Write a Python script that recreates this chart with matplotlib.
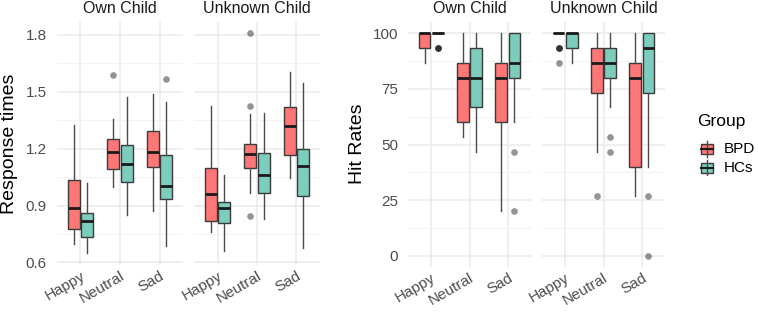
import matplotlib
matplotlib.use("Agg")
import matplotlib.pyplot as plt
from matplotlib.patches import Rectangle
from matplotlib.transforms import ScaledTranslation

plt.rcParams['font.family'] = ['Liberation Sans', 'DejaVu Sans']

facets = ["Own Child", "Unknown Child"]
emotions = ["Happy", "Neutral", "Sad"]
groups = ["BPD", "HCs"]
group_colors = ["#FF7676", "#7CCDBD"]

# stats per (facet, emotion, group): [whislo, q1, med, q3, whishi]
rt_own_bpd = [[0.697, 0.778, 0.889, 1.035, 1.325], [0.996, 1.091, 1.184, 1.249, 1.357], [0.869, 1.103, 1.184, 1.293, 1.487]]
rt_own_hcs = [[0.648, 0.732, 0.820, 0.859, 1.017], [0.850, 1.022, 1.117, 1.218, 1.475], [0.686, 0.936, 1.005, 1.165, 1.448]]
rt_unk_bpd = [[0.762, 0.820, 0.961, 1.096, 1.427], [0.964, 1.096, 1.172, 1.225, 1.383], [1.043, 1.167, 1.320, 1.418, 1.607]]
rt_unk_hcs = [[0.662, 0.806, 0.885, 0.920, 1.061], [0.827, 0.968, 1.061, 1.179, 1.387], [0.674, 0.950, 1.110, 1.198, 1.548]]
rt_own_bpd_out = [[], [1.591], []]
rt_own_hcs_out = [[], [], [1.570]]
rt_unk_bpd_out = [[], [1.809, 1.424, 0.846], []]
rt_unk_hcs_out = [[], [], []]

hr_own_bpd = [[86.7, 93.3, 100, 100, 100], [53.3, 60, 80, 86.7, 100], [20, 60, 80, 86.7, 100]]
hr_own_hcs = [[100, 100, 100, 100, 100], [46.7, 66.7, 80, 93.3, 100], [60, 80, 86.7, 100, 100]]
hr_unk_bpd = [[100, 100, 100, 100, 100], [46.7, 73.3, 86.7, 93.3, 100], [26.7, 40, 80, 86.7, 100]]
hr_unk_hcs = [[86.7, 93.3, 100, 100, 100], [66.7, 80, 86.7, 93.3, 100], [40, 73.3, 93.3, 100, 100]]
hr_own_bpd_out = [[], [], []]
hr_own_hcs_out = [[93.3, 93.3, 93.3], [], [46.7, 20]]
hr_unk_bpd_out = [[93.3, 93.3, 93.3, 86.7], [26.7], []]
hr_unk_hcs_out = [[], [53.3, 46.7], [26.7, 0]]

rt_ticks = [0.6, 0.9, 1.2, 1.5, 1.8]
hr_ticks = [0, 25, 50, 75, 100]

W, H = 758, 312
fig = plt.figure(figsize=(W / 100, H / 100), dpi=100)

def fx(px):
    return px / W

def fy(py):
    return 1 - py / H

def make_ax(x0, x1, y0, y1):
    return fig.add_axes([fx(x0), fy(y1), fx(x1) - fx(x0), fy(y0) - fy(y1)])

GRID = "#EBEBEB"
TICKC = "#4D4D4D"
TICKFS = 11

def draw_panel(ax, bpd, hcs, bpd_out, hcs_out, ylim, yticks, minor, show_y, ylabfmt):
    offs = [-0.17, 0.17]
    width = 0.31
    for gi, (stats, outs) in enumerate([(bpd, bpd_out), (hcs, hcs_out)]):
        bl = []
        pos = []
        for ei, s in enumerate(stats):
            bl.append(dict(whislo=s[0], q1=s[1], med=s[2], q3=s[3], whishi=s[4], fliers=outs[ei]))
            pos.append(ei + 1 + offs[gi])
        ax.bxp(bl, positions=pos, widths=width, patch_artist=True, showcaps=False,
               boxprops=dict(facecolor=group_colors[gi], edgecolor="#3A3A3A", linewidth=1.0),
               medianprops=dict(color="#1A1A1A", linewidth=2.0, solid_capstyle='butt'),
               whiskerprops=dict(color="#4A4A4A", linewidth=1.0),
               flierprops=dict(marker='o', markerfacecolor="#000000", markeredgecolor='none',
                               markersize=4.8, alpha=0.42),
               zorder=3)
    ax.set_xlim(0.4, 3.6)
    ax.set_ylim(*ylim)
    ax.set_yticks(yticks)
    ax.set_yticks(minor, minor=True)
    ax.set_xticks([1, 2, 3])
    ax.set_xticklabels(emotions, rotation=30, ha='right', rotation_mode='anchor',
                       fontsize=TICKFS, color=TICKC)
    off = ScaledTranslation(7 / 100, -3 / 100, fig.dpi_scale_trans)
    for lab in ax.get_xticklabels():
        lab.set_transform(lab.get_transform() + off)
    if show_y:
        ax.set_yticklabels([ylabfmt(t) for t in yticks], fontsize=TICKFS, color=TICKC)
    else:
        ax.set_yticklabels([])
    ax.tick_params(which='both', length=0)
    ax.tick_params(axis='y', pad=7)
    ax.tick_params(axis='x', pad=3)
    ax.grid(True, which='major', color=GRID, linewidth=1.1, zorder=0)
    ax.grid(True, which='minor', axis='y', color="#F3F3F3", linewidth=0.8, zorder=0)
    ax.set_axisbelow(True)
    for sp in ax.spines.values():
        sp.set_visible(False)

rt_minor = [0.75, 1.05, 1.35, 1.65]
hr_minor = [12.5, 37.5, 62.5, 87.5]

ax1 = make_ax(56.7, 183.3, 21.7, 265)
ax2 = make_ax(194, 320, 21.7, 265)
ax3 = make_ax(408, 531, 22.2, 266.8)
ax4 = make_ax(542, 665, 22.2, 266.8)

rt_fmt = lambda t: f"{t:.1f}"
hr_fmt = lambda t: f"{t:d}"
draw_panel(ax1, rt_own_bpd, rt_own_hcs, rt_own_bpd_out, rt_own_hcs_out, (0.586, 1.870), rt_ticks, rt_minor, True, rt_fmt)
draw_panel(ax2, rt_unk_bpd, rt_unk_hcs, rt_unk_bpd_out, rt_unk_hcs_out, (0.586, 1.870), rt_ticks, rt_minor, False, rt_fmt)
draw_panel(ax3, hr_own_bpd, hr_own_hcs, hr_own_bpd_out, hr_own_hcs_out, (-5, 105), hr_ticks, hr_minor, True, hr_fmt)
draw_panel(ax4, hr_unk_bpd, hr_unk_hcs, hr_unk_bpd_out, hr_unk_hcs_out, (-5, 105), hr_ticks, hr_minor, False, hr_fmt)

strip_x = [(56.7 + 183.3) / 2, (194 + 320) / 2, (408 + 531) / 2, (542 + 665) / 2]
for xc, title in zip(strip_x, facets * 2):
    fig.text(fx(xc), fy(12.8), title, ha='center', va='baseline', fontsize=11.5, color="#1A1A1A")

fig.text(fx(1.5), 0.5 + (fy(143.5) - 0.5), "Response times", rotation=90, fontsize=14,
         ha='left', va='center')
fig.text(fx(349), fy(144), "Hit Rates", rotation=90, fontsize=14, ha='left', va='center')

# legend
fig.text(fx(697), fy(122), "Group", fontsize=12.5, ha='left', va='center')
lax = fig.add_axes([fx(698), fy(176), fx(716) - fx(698), fy(140) - fy(176)])
lax.set_xlim(0, 1)
lax.set_ylim(0, 1)
lax.axis('off')
for i, (g, c) in enumerate(zip(groups, group_colors)):
    yc = 1 - (149.3 - 140 + i * 18.3) / 36
    lax.plot([0.5, 0.5], [yc - 0.22, yc + 0.22], color="#4A4A4A", lw=1.0)
    lax.add_patch(Rectangle((0.17, yc - 0.14), 0.66, 0.28, facecolor=c, edgecolor="#3A3A3A", lw=1.0))
    lax.plot([0.17, 0.83], [yc, yc], color="#1A1A1A", lw=1.5)
    fig.text(fx(724), fy(149.3 + i * 18.3), g, fontsize=11, ha='left', va='center')

fig.savefig("out.png", dpi=100)
